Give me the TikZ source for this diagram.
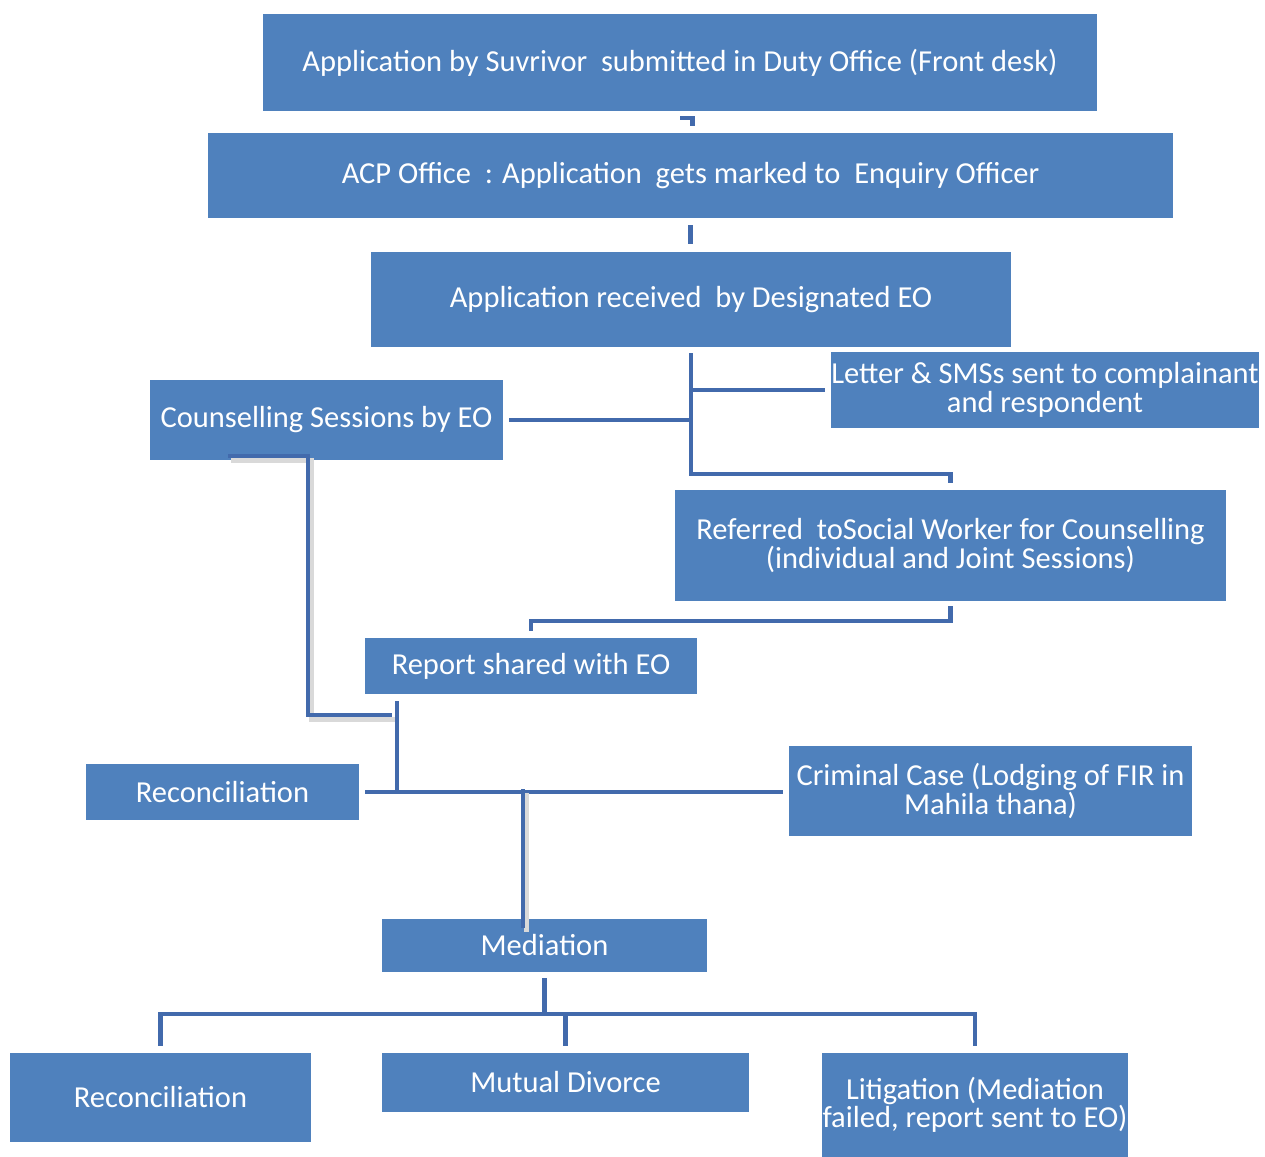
\documentclass[tikz,border=0pt]{standalone}
\usepackage{fontspec}
\setmainfont{Carlito}
\usepackage{tikz}
\usetikzlibrary{calc, positioning}

\definecolor{boxblue}{RGB}{79,129,189}
\definecolor{lineblue}{RGB}{66,106,172}

\begin{document}
\begin{tikzpicture}[x=1pt, y=-1pt,
    box/.style={fill=boxblue, text=white, align=center, inner sep=0pt,
        font=\fontsize{30.5}{28.5}\selectfont},
    link/.style={draw=lineblue, line width=4.5pt},
    shadowlink/.style={link, preaction={draw=black!15, line width=5pt,
        transform canvas={shift={(3pt,-4pt)}}}}]

    \useasboundingbox (0,0) rectangle (1265,1156);

    % =================================================================
    % 1. CÁC HỘP CHÍNH
    % =================================================================
    \node[box, minimum width=834pt, minimum height=97pt] (app) at (680,62.5)
        {Application by Suvrivor\ \ submitted in Duty Office (Front desk)};
    \node[box, minimum width=965pt, minimum height=85pt] (acp) at (690.5,175.5)
        {ACP Office\ \ : Application\ \ gets marked to\ \ Enquiry Officer};
    \node[box, minimum width=640pt, minimum height=95pt] (rcv) at (691,299.5)
        {Application received\ \ by Designated EO};
    \node[box, minimum width=428pt, minimum height=76pt] (letter) at (1045,390)
        {Letter \& SMSs sent to complainant\\and respondent};
    \node[box, minimum width=353pt, minimum height=80pt] (coun) at (326.5,420)
        {Counselling Sessions by EO};
    \node[box, minimum width=551pt, minimum height=111pt] (ref) at (950.5,545.5)
        {Referred\ \ toSocial Worker for Counselling\\(individual and Joint Sessions)};
    \node[box, minimum width=332pt, minimum height=56pt] (rep) at (531,666)
        {Report shared with EO};
    \node[box, minimum width=273pt, minimum height=56pt] (rec) at (222.5,792)
        {Reconciliation};
    \node[box, minimum width=403pt, minimum height=90pt] (crim) at (990.5,791)
        {Criminal Case (Lodging of FIR in\\Mahila thana)};
    \node[box, minimum width=325pt, minimum height=53pt] (med) at (544.5,945.5)
        {Mediation};
    \node[box, minimum width=301pt, minimum height=89pt] (recb) at (160.5,1097.5)
        {Reconciliation};
    \node[box, minimum width=367pt, minimum height=59pt] (mut) at (565.5,1082.5)
        {Mutual Divorce};
    \node[box, minimum width=306pt, minimum height=104pt] (lit) at (975,1105)
        {Litigation (Mediation\\failed, report sent to EO)};

    % các điểm nối
    \coordinate (cs) at (228,456);
    \coordinate (cj) at (392,715);
    \coordinate (jn) at (397,791);
    \coordinate (mj) at (523,789);

    % =================================================================
    % 2. CÁC ĐƯỜNG NỐI
    % =================================================================
    \draw[link] ([yshift=-7pt]app.south) -| ([xshift=2pt,yshift=7pt]acp.north);
    \draw[link] ([yshift=-7pt]acp.south) -- ([yshift=8pt]rcv.north -| acp.south);

    \draw[link] ([yshift=-6pt]rcv.south) -- ++(0,121) -| ([yshift=7pt]ref.north);
    \draw[link] (rcv.south |- letter.west) -- ([xshift=-6pt]letter.west);
    \draw[link] ([xshift=6pt]coun.east) -- (coun.east -| rcv.south);

    % nhánh tư vấn (có bóng)
    \draw[shadowlink] (cs) -- (308,456) |- (cj);

    \draw[link] ([yshift=-5pt]ref.south) -- ++(0,15) -| ([yshift=7pt]rep.north);
    \draw[link] ([yshift=-7pt]jn |- rep.south) -- (jn);
    \draw[link] ([xshift=6pt]rec.east) -- ([xshift=-6pt]rec.east -| crim.west);

    \draw[shadowlink] (mj) -- ([yshift=-9pt]mj |- med.north);

    % nhánh hòa giải
    \draw[link] ([yshift=-6pt]med.south) -- ++(0,36) coordinate (bj);
    \draw[link] ([yshift=7pt]recb.north) |- (bj) -| ([yshift=7pt]lit.north);
    \draw[link] (mut.north |- bj) -- ([yshift=7pt]mut.north);

\end{tikzpicture}
\end{document}
